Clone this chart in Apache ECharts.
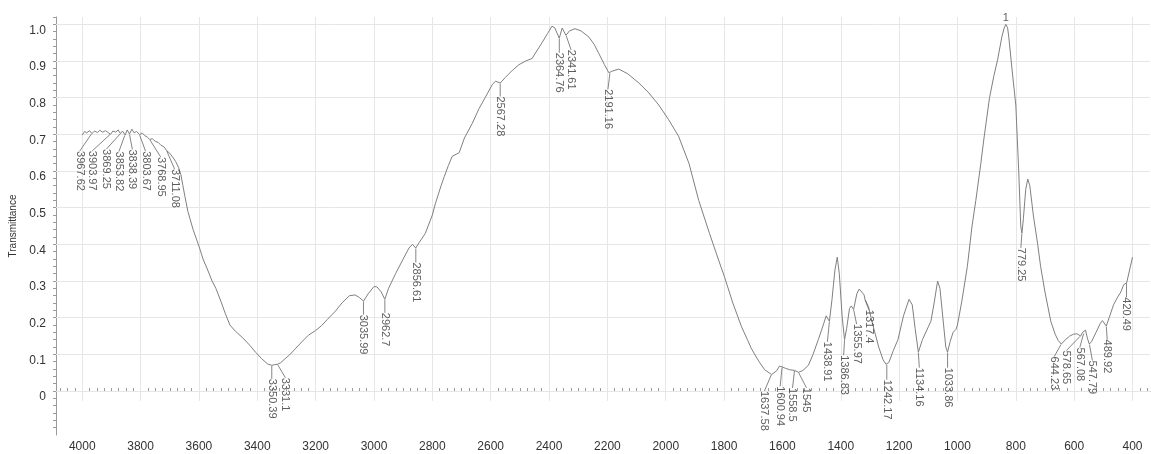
<!DOCTYPE html>
<html><head><meta charset="utf-8">
<script src="https://cdn.jsdelivr.net/npm/echarts@6/dist/echarts.min.js"></script>
<style>html,body{margin:0;padding:0;background:#fff}#c{width:1151px;height:454px}</style>
</head><body><div id="c"></div>
<script>
// ---- data ----
const wavenumber = [4000,3992,3985,3975,3967,3958,3948,3940,3930,3920,3910,3903,3895,3885,3877,3869,3862,3853,3846,3838,3830,3822,3814,3803,3795,3785,3776,3769,3760,3750,3740,3730,3720,3711,3700,3690,3680,3670,3662,3655,3648,3638,3620,3600,3586,3570,3555,3542,3525,3510,3494,3475,3450,3425,3405,3385,3365,3350,3340,3331,3320,3305,3290,3270,3245,3225,3200,3180,3160,3132,3110,3084,3065,3050,3036,3020,3000,2990,2975,2963,2950,2926,2900,2880,2868,2857,2845,2824,2800,2790,2770,2759,2745,2732,2708,2690,2663,2640,2619,2595,2584,2567,2550,2525,2503,2480,2458,2440,2424,2405,2390,2380,2365,2355,2349,2342,2330,2311,2290,2263,2245,2229,2210,2195,2185,2161,2130,2092,2060,2024,1990,1956,1920,1887,1850,1820,1798,1770,1740,1720,1706,1680,1661,1637,1620,1610,1601,1590,1575,1558,1545,1530,1511,1495,1477,1460,1450,1445,1439,1430,1420,1412,1405,1395,1387,1380,1370,1364,1356,1345,1337,1328,1320,1317,1305,1290,1270,1255,1245,1235,1220,1204,1185,1166,1155,1145,1134,1120,1100,1091,1080,1068,1060,1050,1040,1034,1025,1015,1005,1000,985,966,950,937,920,909,890,875,862,848,840,834,828,824,812,800,790,783,779,774,766,759,752,740,725,715,700,680,665,655,644,630,615,602,590,578,571,567,561,555,548,540,525,510,503,490,480,465,451,440,430,420,410,400];
const transmittance = [0.698,0.708,0.704,0.710,0.702,0.709,0.705,0.711,0.706,0.710,0.704,0.700,0.709,0.706,0.712,0.702,0.709,0.698,0.712,0.701,0.714,0.704,0.708,0.699,0.704,0.696,0.692,0.686,0.688,0.681,0.678,0.670,0.666,0.656,0.648,0.638,0.626,0.610,0.590,0.560,0.530,0.490,0.440,0.395,0.360,0.330,0.300,0.280,0.245,0.212,0.180,0.163,0.145,0.124,0.105,0.088,0.074,0.070,0.072,0.073,0.077,0.088,0.098,0.115,0.136,0.152,0.165,0.178,0.195,0.218,0.240,0.260,0.262,0.255,0.245,0.265,0.285,0.284,0.270,0.250,0.280,0.320,0.360,0.390,0.400,0.390,0.405,0.430,0.480,0.510,0.560,0.585,0.615,0.640,0.650,0.690,0.730,0.770,0.800,0.835,0.845,0.840,0.855,0.875,0.890,0.900,0.907,0.930,0.950,0.975,0.995,0.990,0.962,0.990,0.995,0.970,0.982,0.988,0.982,0.965,0.945,0.920,0.890,0.868,0.872,0.878,0.865,0.840,0.815,0.780,0.740,0.695,0.620,0.520,0.430,0.360,0.310,0.240,0.175,0.140,0.115,0.080,0.058,0.045,0.055,0.068,0.066,0.062,0.058,0.056,0.051,0.056,0.070,0.100,0.140,0.180,0.205,0.200,0.190,0.250,0.330,0.365,0.320,0.200,0.140,0.170,0.225,0.232,0.222,0.265,0.278,0.270,0.262,0.250,0.230,0.180,0.120,0.085,0.073,0.078,0.110,0.140,0.205,0.250,0.235,0.170,0.106,0.140,0.175,0.190,0.240,0.300,0.280,0.200,0.120,0.106,0.135,0.160,0.168,0.180,0.245,0.340,0.450,0.520,0.620,0.690,0.800,0.860,0.905,0.965,0.990,1.000,0.990,0.965,0.870,0.780,0.600,0.450,0.430,0.470,0.550,0.578,0.560,0.480,0.400,0.340,0.270,0.190,0.155,0.138,0.128,0.140,0.150,0.155,0.156,0.150,0.160,0.158,0.166,0.145,0.128,0.135,0.160,0.185,0.192,0.177,0.200,0.235,0.256,0.270,0.290,0.295,0.330,0.365];
const peakLabels = ['3967.62','3903.97','3869.25','3853.82','3838.39','3803.67','3768.95','3711.08','3350.39','3331.1','3035.99','2962.7','2856.61','2567.28','2364.76','2341.61','2191.16','1637.58','1600.94','1558.5','1545','1438.91','1386.83','1355.97','1317.4','1242.17','1134.16','1033.86','779.25','644.23','578.65','567.08','547.79','489.92','420.49'];
const peakWavenumber = [3967.62,3903.97,3869.25,3853.82,3838.39,3803.67,3768.95,3711.08,3350.39,3331.1,3035.99,2962.7,2856.61,2567.28,2364.76,2341.61,2191.16,1637.58,1600.94,1558.5,1545,1438.91,1386.83,1355.97,1317.4,1242.17,1134.16,1033.86,779.25,644.23,578.65,567.08,547.79,489.92,420.49];
const peakTransmittance = [0.702,0.700,0.702,0.698,0.701,0.699,0.686,0.656,0.070,0.073,0.245,0.250,0.390,0.840,0.962,0.970,0.868,0.045,0.066,0.056,0.051,0.190,0.140,0.222,0.250,0.073,0.106,0.106,0.430,0.128,0.150,0.158,0.128,0.177,0.295];
const topPeakLabel = '1';
const topPeakWavenumber = 834;
const topPeakTransmittance = 1.0;
const xTickLabels = [4000,3800,3600,3400,3200,3000,2800,2600,2400,2200,2000,1800,1600,1400,1200,1000,800,600,400];
const yTickLabels = [0,0.1,0.2,0.3,0.4,0.5,0.6,0.7,0.8,0.9,1.0];

// ---- layout (screen shifts in px: right, down) ----
const labelShiftRight = [-12,-18,-14,-6,3,6,11,8, 0,8, 0,0,0, 0,0,5,-2, -7,-2,-2,8, -2,-1,3,4, 0,1,0, -1, -7,-14,-4,3,1,0];
const labelShiftDown = [17,16,15,16,15,16,17,18, 13,13, 13,13,14, 13,14,14,16, 16,19,17,15, 20,15,14,10, 15,15,15, 14, 12,14,14,16,13,14];

const spectrum = wavenumber.map((w, i) => [w, transmittance[i]]);
const peaks = peakWavenumber.map((w, i) => [w, peakTransmittance[i], peakLabels[i]]);

const minorX = []; for (let v = 350; v <= 4075; v += 25) minorX.push(v);
const minorY = []; for (let k = -5; k <= 51; k++) minorY.push(+(k * 0.02).toFixed(2));

const gridLines = [];
yTickLabels.forEach(v => gridLines.push({yAxis: v}));
xTickLabels.forEach(v => gridLines.push([{coord: [v, -0.027]}, {coord: [v, 1.02]}]));

const font = 'Liberation Sans, Arial, sans-serif';
const chart = echarts.init(document.getElementById('c'));
chart.setOption({
  animation: false,
  backgroundColor: '#fff',
  grid: {left: 55, right: 1, top: 17, bottom: 19, containLabel: false},
  xAxis: [{
    type: 'value', inverse: true, min: 340, max: 4090,
    axisLine: {show: true, lineStyle: {color: '#9a9a9a', width: 1}},
    axisTick: {show: true, inside: true, length: 3, customValues: minorX, lineStyle: {color: '#9a9a9a'}},
    axisLabel: {customValues: xTickLabels, fontSize: 12, color: '#333', fontFamily: font, margin: 6,
      formatter: v => String(v)},
    splitLine: {show: false}
  }],
  yAxis: [{
    type: 'value', min: -0.12, max: 1.02,
    name: 'Transmittance', nameLocation: 'middle', nameGap: 38, nameRotate: 90,
    nameTextStyle: {fontSize: 10, color: '#333', fontFamily: font},
    axisLine: {show: true, lineStyle: {color: '#9a9a9a', width: 1}},
    axisTick: {show: true, length: 3, customValues: minorY, lineStyle: {color: '#9a9a9a'}},
    axisLabel: {customValues: yTickLabels, fontSize: 12, color: '#333', fontFamily: font, margin: 10,
      verticalAlign: 'top', formatter: v => v === 0 ? '0' : v.toFixed(1)},
    splitLine: {show: false}
  }],
  series: [
    {
      name: 'grid', type: 'scatter', data: peaks, symbolSize: 0, z: 1, silent: true,
      markLine: {z: 1, silent: true, symbol: 'none', label: {show: false},
        lineStyle: {color: '#e6e6e6', width: 1, type: 'solid'}, data: gridLines, animation: false}
    },
    {
      name: 'spectrum', type: 'line', data: spectrum, showSymbol: false, z: 6, silent: true,
      lineStyle: {color: '#808080', width: 1}
    },
    {
      name: 'peaks', type: 'scatter', data: peaks, symbolSize: 1, z: 7, silent: true,
      itemStyle: {color: 'rgba(0,0,0,0)'},
      label: {show: true, position: 'bottom', distance: 0, rotate: -90, align: 'left', verticalAlign: 'middle',
        fontSize: 11, color: '#333', fontFamily: font, formatter: p => p.data[2]},
      labelLine: {show: true, lineStyle: {color: '#666', width: 0.8}},
      // label is rotated -90deg: local x runs down the screen, local y runs to the left
      labelLayout: p => ({dx: labelShiftDown[p.dataIndex], dy: -labelShiftRight[p.dataIndex]})
    },
    {
      name: 'top', type: 'scatter', data: [[topPeakWavenumber, topPeakTransmittance, topPeakLabel]], symbolSize: 1, z: 7, silent: true,
      itemStyle: {color: 'rgba(0,0,0,0)'},
      label: {show: true, position: 'top', distance: 0, fontSize: 11, color: '#333', fontFamily: font, formatter: p => p.data[2]}
    }
  ]
});
</script></body></html>
